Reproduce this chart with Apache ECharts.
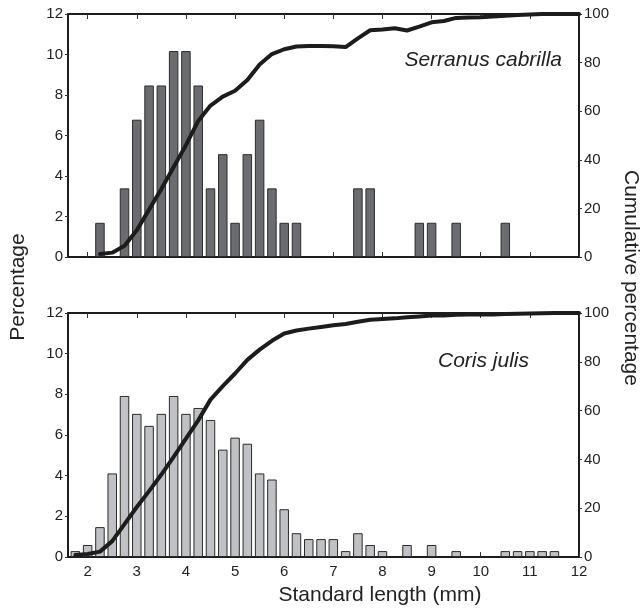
<!DOCTYPE html>
<html>
<head>
<meta charset="utf-8">
<script src="https://cdn.jsdelivr.net/npm/echarts@6/dist/echarts.min.js"></script>
<style>
html,body{margin:0;padding:0;background:#fff;}
#chart{width:640px;height:609px;}
</style>
</head>
<body>
<div id="chart"></div>
<script>
// ---- data ----
const xTicks = [2, 3, 4, 5, 6, 7, 8, 9, 10, 11, 12];
const leftTicks = [0, 2, 4, 6, 8, 10, 12];
const rightTicks = [0, 20, 40, 60, 80, 100];

const xTop = [2.25, 2.75, 3.0, 3.25, 3.5, 3.75, 4.0, 4.25, 4.5, 4.75, 5.0, 5.25, 5.5, 5.75, 6.0, 6.25, 7.5, 7.75, 8.75, 9.0, 9.5, 10.5];
const pctTop = [1.69, 3.39, 6.78, 8.47, 8.47, 10.17, 10.17, 8.47, 3.39, 5.08, 1.69, 5.08, 6.78, 3.39, 1.69, 1.69, 3.39, 3.39, 1.69, 1.69, 1.69, 1.69];

const xBottom = [1.75, 2.0, 2.25, 2.5, 2.75, 3.0, 3.25, 3.5, 3.75, 4.0, 4.25, 4.5, 4.75, 5.0, 5.25, 5.5, 5.75, 6.0, 6.25, 6.5, 6.75, 7.0, 7.25, 7.5, 7.75, 8.0, 8.5, 9.0, 9.5, 10.5, 10.75, 11.0, 11.25, 11.5];
const pctBottom = [0.29, 0.59, 1.47, 4.11, 7.92, 7.04, 6.45, 7.04, 7.92, 7.04, 7.33, 6.74, 5.28, 5.87, 5.57, 4.11, 3.81, 2.35, 1.17, 0.88, 0.88, 0.88, 0.29, 1.17, 0.59, 0.29, 0.59, 0.59, 0.29, 0.29, 0.29, 0.29, 0.29, 0.29];

const cumTopX = [2.25, 2.5, 2.75, 3, 3.25, 3.5, 3.75, 4, 4.25, 4.5, 4.75, 5, 5.25, 5.5, 5.75, 6, 6.25, 6.5, 6.75, 7, 7.25, 7.5, 7.75, 8, 8.25, 8.5, 8.75, 9, 9.25, 9.5, 9.75, 10, 10.25, 10.5, 10.75, 11, 11.25, 11.5, 11.75, 12];
const cumTop = [1.2, 1.8, 4.6, 11, 19.5, 28, 37, 46, 56, 62.3, 66, 68.4, 72.8, 79.2, 83.5, 85.5, 86.6, 86.8, 86.8, 86.7, 86.4, 90, 93.3, 93.6, 94.1, 93.2, 94.8, 96.6, 97.1, 98.4, 98.6, 98.7, 99.0, 99.3, 99.6, 99.8, 100, 100, 100, 100];

const cumBottomX = [1.75, 2, 2.25, 2.5, 2.75, 3, 3.25, 3.5, 3.75, 4, 4.25, 4.5, 4.75, 5, 5.25, 5.5, 5.75, 6, 6.25, 6.5, 6.75, 7, 7.25, 7.5, 7.75, 8, 8.25, 8.5, 8.75, 9, 9.25, 9.5, 9.75, 10, 10.25, 10.5, 10.75, 11, 11.25, 11.5, 11.75, 12];
const cumBottom = [0.8, 1.2, 2.2, 6.5, 13.5, 20.5, 27, 33.8, 41, 48.5, 56, 64.5, 70, 75.2, 80.8, 85, 88.6, 91.6, 92.8, 93.6, 94.3, 95, 95.5, 96.4, 97.2, 97.5, 97.8, 98.3, 98.6, 99, 99, 99.3, 99.4, 99.4, 99.4, 99.6, 99.7, 99.8, 99.9, 100, 100, 100];

const speciesTop = 'Serranus cabrilla';
const speciesBottom = 'Coris julis';
const xTitle = 'Standard length (mm)';
const yLeftTitle = 'Percentage';
const yRightTitle = 'Cumulative percentage';

// ---- chart ----
const FONT = '"Liberation Sans", Arial, Helvetica, sans-serif';
const INK = '#1c1c1c';
const pairs = (xs, ys) => xs.map((x, i) => [x, ys[i]]);

function xAxisDef(gridIndex, position, labels) {
  return {
    type: 'value', gridIndex, position, min: 1.6, max: 12,
    axisLine: { show: true, onZero: false, lineStyle: { color: INK, width: 2 } },
    axisTick: { show: true, inside: true, length: 5, customValues: xTicks, lineStyle: { color: '#333', width: 1 } },
    axisLabel: { show: labels, customValues: xTicks, margin: 7, fontSize: 15, color: '#222', fontFamily: FONT },
    splitLine: { show: false }
  };
}
function yAxisDef(gridIndex, position, max, interval) {
  return {
    type: 'value', gridIndex, position, min: 0, max, interval,
    axisLine: { show: true, onZero: false, lineStyle: { color: INK, width: 2 } },
    axisTick: { show: true, inside: false, length: 3, lineStyle: { color: '#333', width: 1 } },
    axisLabel: { show: true, margin: 5, fontSize: 15, color: '#222', fontFamily: FONT },
    splitLine: { show: false }
  };
}

const chart = echarts.init(document.getElementById('chart'), null, { renderer: 'canvas' });
chart.setOption({
  animation: false,
  backgroundColor: '#fff',
  grid: [
    { left: 68, top: 14, width: 511, height: 243 },
    { left: 68, top: 313, width: 511, height: 244 }
  ],
  xAxis: [
    xAxisDef(0, 'bottom', false),
    xAxisDef(0, 'top', false),
    xAxisDef(1, 'bottom', true),
    xAxisDef(1, 'top', false)
  ],
  yAxis: [
    yAxisDef(0, 'left', 12, 2),
    yAxisDef(0, 'right', 100, 20),
    yAxisDef(1, 'left', 12, 2),
    yAxisDef(1, 'right', 100, 20)
  ],
  series: [
    {
      type: 'bar', xAxisIndex: 0, yAxisIndex: 0, barWidth: 9.5,
      data: pairs(xTop, pctTop),
      itemStyle: { color: '#6b6c70', borderColor: '#2b2b2b', borderWidth: 1 },
      z: 2
    },
    {
      type: 'line', xAxisIndex: 0, yAxisIndex: 1,
      data: pairs(cumTopX, cumTop),
      showSymbol: false, clip: false,
      lineStyle: { color: INK, width: 4, join: 'round', cap: 'round' },
      z: 5
    },
    {
      type: 'bar', xAxisIndex: 2, yAxisIndex: 2, barWidth: 9.5,
      data: pairs(xBottom, pctBottom),
      itemStyle: { color: '#c0c1c5', borderColor: '#2b2b2b', borderWidth: 1 },
      z: 2
    },
    {
      type: 'line', xAxisIndex: 2, yAxisIndex: 3,
      data: pairs(cumBottomX, cumBottom),
      showSymbol: false, clip: false,
      lineStyle: { color: INK, width: 4, join: 'round', cap: 'round' },
      z: 5
    }
  ],
  graphic: [
    { type: 'text', x: 562, y: 60, style: { text: speciesTop, fontSize: 21, fontStyle: 'italic', fontFamily: FONT, fill: '#222', textAlign: 'right', textVerticalAlign: 'middle' } },
    { type: 'text', x: 529, y: 361, style: { text: speciesBottom, fontSize: 21, fontStyle: 'italic', fontFamily: FONT, fill: '#222', textAlign: 'right', textVerticalAlign: 'middle' } },
    { type: 'text', x: 380, y: 595, style: { text: xTitle, fontSize: 21, fontFamily: FONT, fill: '#222', textAlign: 'center', textVerticalAlign: 'middle' } },
    { type: 'text', x: 18, y: 287, rotation: Math.PI / 2, style: { text: yLeftTitle, fontSize: 21, fontFamily: FONT, fill: '#222', textAlign: 'center', textVerticalAlign: 'middle' } },
    { type: 'text', x: 631, y: 278, rotation: -Math.PI / 2, style: { text: yRightTitle, fontSize: 21, fontFamily: FONT, fill: '#222', textAlign: 'center', textVerticalAlign: 'middle' } }
  ]
});
</script>
</body>
</html>
